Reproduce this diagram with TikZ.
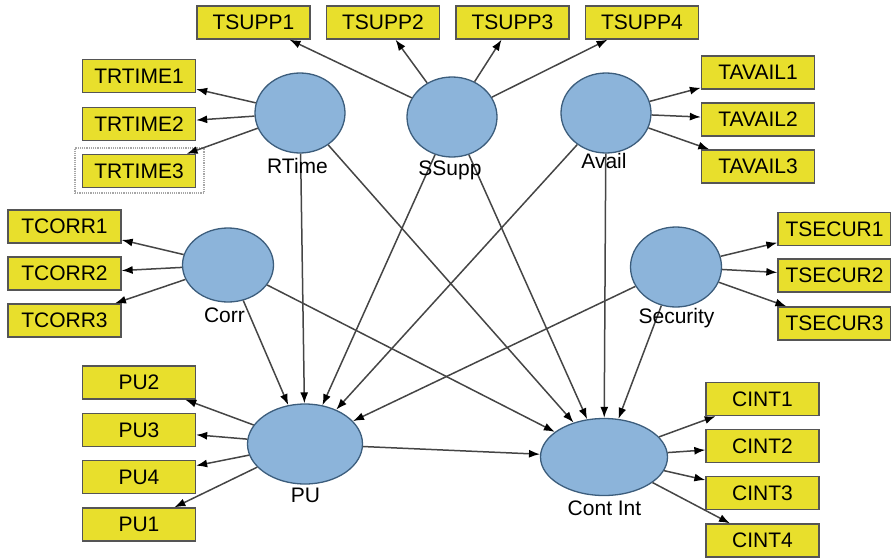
\documentclass[tikz,border=0pt]{standalone}
\usepackage{fontspec}
\setmainfont{Liberation Sans}
\usetikzlibrary{arrows.meta,shapes.geometric}
\definecolor{boxyellow}{HTML}{E8DF2C}
\definecolor{latblue}{HTML}{8CB4DA}
\definecolor{latedge}{HTML}{3C5D7C}
\definecolor{linegray}{HTML}{454545}
\definecolor{boxedge}{HTML}{555555}
\begin{document}
\begin{tikzpicture}[x=1pt,y=-1pt,
  ind/.style={draw=boxedge, fill=boxyellow, line width=1.3pt, minimum width=113pt, minimum height=33pt, inner sep=0pt, font=\fontsize{21}{24}\selectfont},
  lat/.style={ellipse, draw=latedge, fill=latblue, line width=1.3pt, inner sep=0pt},
  lab/.style={font=\fontsize{21}{24}\selectfont, inner sep=0pt, anchor=base},
  arr/.style={draw=linegray, line width=1.5pt, -{Latex[length=11pt,width=8pt,color=black]}}
]
\useasboundingbox (0,0) rectangle (891,557);
% frame around TRTIME3
\node[draw=gray!70, densely dotted, line width=1.2pt, minimum width=129pt, minimum height=45pt, inner sep=0pt] (fr) at (139.5,170.5) {};
% indicator boxes
\node[ind] (ts1) at (253.5,22.5) {TSUPP1};
\node[ind] (ts2) at (383,22.5) {TSUPP2};
\node[ind] (ts3) at (512.5,22.5) {TSUPP3};
\node[ind] (ts4) at (642,22.5) {TSUPP4};
\node[ind] (tr1) at (139,76) {TRTIME1};
\node[ind] (tr2) at (139,124) {TRTIME2};
\node[ind] (tr3) at (139,171) {TRTIME3};
\node[ind] (ta1) at (758,72.5) {TAVAIL1};
\node[ind] (ta2) at (758,119.5) {TAVAIL2};
\node[ind] (ta3) at (758,166.5) {TAVAIL3};
\node[ind] (tc1) at (64.5,226.5) {TCORR1};
\node[ind] (tc2) at (64.5,273.5) {TCORR2};
\node[ind] (tc3) at (64.5,320.5) {TCORR3};
\node[ind] (se1) at (834.5,229) {TSECUR1};
\node[ind] (se2) at (834.5,275.5) {TSECUR2};
\node[ind] (se3) at (834.5,323.5) {TSECUR3};
\node[ind] (pu2) at (139,382.5) {PU2};
\node[ind] (pu3) at (139,430) {PU3};
\node[ind] (pu4) at (139,477) {PU4};
\node[ind] (pu1) at (139,524.5) {PU1};
\node[ind] (ci1) at (762.5,399) {CINT1};
\node[ind] (ci2) at (762.5,446) {CINT2};
\node[ind] (ci3) at (762.5,493) {CINT3};
\node[ind] (ci4) at (762.5,540.5) {CINT4};
% latent variables
\node[lat, minimum width=90pt, minimum height=80pt] (rt) at (300,113) {};
\node[lat, minimum width=90pt, minimum height=80pt] (ss) at (452,117) {};
\node[lat, minimum width=90pt, minimum height=80pt] (av) at (606,113) {};
\node[lat, minimum width=91pt, minimum height=74pt] (co) at (228,265) {};
\node[lat, minimum width=91pt, minimum height=80pt] (sc) at (676,267) {};
\node[lat, minimum width=115pt, minimum height=80pt] (pu) at (305,444) {};
\node[lat, minimum width=127pt, minimum height=77pt] (ci) at (604,457) {};
% measurement arrows
\foreach \t in {tr1,tr2,tr3} \draw[arr] (rt) -- (\t);
\foreach \t in {ts1,ts2,ts3,ts4} \draw[arr] (ss) -- (\t);
\foreach \t in {ta1,ta2,ta3} \draw[arr] (av) -- (\t);
\foreach \t in {tc1,tc2,tc3} \draw[arr] (co) -- (\t);
\foreach \t in {se1,se2,se3} \draw[arr] (sc) -- (\t);
\foreach \t in {pu2,pu3,pu4,pu1} \draw[arr] (pu) -- (\t);
\foreach \t in {ci1,ci2,ci3,ci4} \draw[arr] (ci) -- (\t);
% structural arrows
\foreach \s in {rt,ss,av,co,sc} {
  \draw[arr] (\s) -- (pu);
  \draw[arr] (\s) -- (ci);
}
\draw[arr] (pu) -- (ci);
% labels
\node[lab] (lrt) at (297.5,173) {RTime};
\node[lab] (lss) at (450,175) {SSupp};
\node[lab] (lav) at (604,168) {Avail};
\node[lab] (lco) at (224.5,322) {Corr};
\node[lab] (lsc) at (676.5,323) {Security};
\node[lab] (lpu) at (305.5,502) {PU};
\node[lab] (lci) at (604.5,515) {Cont Int};
\end{tikzpicture}
\end{document}
